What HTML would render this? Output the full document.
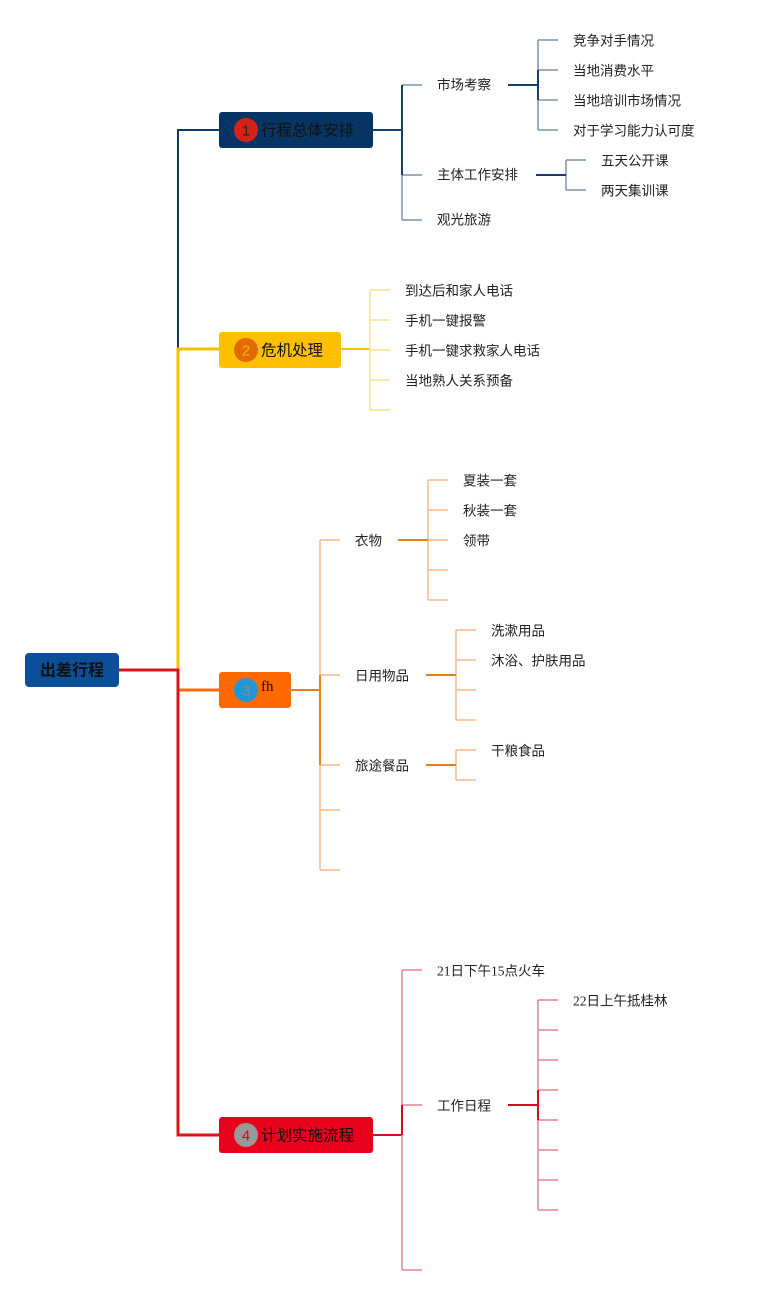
<!DOCTYPE html>
<html><head><meta charset="utf-8"><style>
html,body{margin:0;padding:0;background:#fff;}
svg{display:block;}
text{font-family:"Liberation Serif","Noto Sans CJK SC",sans-serif;font-size:13.5px;fill:#222;dominant-baseline:central;}
.b{font-size:15.5px;fill:#111;}
</style></head><body>
<svg width="759" height="1295" viewBox="0 0 759 1295" xmlns="http://www.w3.org/2000/svg">
<g fill="none" stroke-width="3">
 <path d="M178 349 V130 H219" stroke="#0d3a66" stroke-width="2"/>
 <path d="M178 690 V349 H219" stroke="#f5c000"/>
 <path d="M178 690 H219" stroke="#ff6a00"/>
 <path d="M118 670 H178 V1135 H219" stroke="#e0101a"/>
</g>
<rect x="25" y="653" width="94" height="34" rx="4" fill="#0b4f98"/>
<text x="72" y="671" text-anchor="middle" style="font-size:16px;font-weight:bold;fill:#111">出差行程</text>
<rect x="219" y="112" width="154" height="36" rx="3" fill="#063565"/>
<circle cx="246" cy="130" r="12" fill="#d6231a"/><text x="246" y="131" text-anchor="middle" style="font-family:'Liberation Sans',sans-serif;font-size:15px;fill:#222">1</text>
<text class="b" x="261" y="131">行程总体安排</text>
<g fill="none" stroke="#7b93ad" stroke-width="1.5">
 <path d="M402 85 V220 M402 85 H422 M402 175 H422 M402 220 H422"/>
 <path d="M538 40 V130 M538 40 H558 M538 70 H558 M538 100 H558 M538 130 H558"/>
 <path d="M566 160 V190 M566 160 H586 M566 190 H586"/>
</g>
<g fill="none" stroke="#143f6a" stroke-width="2">
 <path d="M372 130 H402 M402 85 V175"/>
 <path d="M508 85 H538 M538 70 V100"/>
 <path d="M536 175 H566"/>
</g>
<text x="437" y="85">市场考察</text><text x="437" y="175">主体工作安排</text><text x="437" y="220">观光旅游</text>
<text x="573" y="41">竞争对手情况</text><text x="573" y="71">当地消费水平</text><text x="573" y="101">当地培训市场情况</text><text x="573" y="131">对于学习能力认可度</text>
<text x="601" y="161">五天公开课</text><text x="601" y="191">两天集训课</text>
<rect x="219" y="332" width="122" height="36" rx="3" fill="#fcc000"/>
<circle cx="246" cy="350" r="12" fill="#e36a00"/><text x="246" y="351" text-anchor="middle" style="font-family:'Liberation Sans',sans-serif;font-size:15px;fill:#f5b000">2</text>
<text class="b" x="261" y="351">危机处理</text>
<path d="M340 349 H370" stroke="#f5c000" stroke-width="2"/>
<path d="M370 290 V410 M370 290 H390 M370 320 H390 M370 350 H390 M370 380 H390 M370 410 H390" stroke="#fce08a" stroke-width="1.5" fill="none"/>
<text x="405" y="291">到达后和家人电话</text><text x="405" y="321">手机一键报警</text><text x="405" y="351">手机一键求救家人电话</text><text x="405" y="381">当地熟人关系预备</text>
<rect x="219" y="672" width="72" height="36" rx="3" fill="#ff6a00"/>
<circle cx="246" cy="690" r="12" fill="#2196d6"/><text x="246" y="691" text-anchor="middle" style="font-family:'Liberation Sans',sans-serif;font-size:15px;fill:#888">3</text>
<text x="261" y="687" style="font-family:'Liberation Serif',serif;font-size:15px;fill:#111">fh</text>
<path d="M290 690 H320" stroke="#e8801a" stroke-width="2"/>
<g fill="none" stroke="#f5b98a" stroke-width="1.5">
 <path d="M320 540 V870 M320 540 H340 M320 675 H340 M320 765 H340 M320 810 H340 M320 870 H340"/>
 <path d="M428 480 V600 M428 480 H448 M428 510 H448 M428 540 H448 M428 570 H448 M428 600 H448"/>
 <path d="M456 630 V720 M456 630 H476 M456 660 H476 M456 690 H476 M456 720 H476"/>
 <path d="M456 750 V780 M456 750 H476 M456 780 H476"/>
</g>
<g stroke="#e8801a" stroke-width="2" fill="none"><path d="M320 675 V765"/><path d="M398 540 H428"/><path d="M426 675 H456"/><path d="M426 765 H456"/></g>
<text x="355" y="541">衣物</text><text x="355" y="676">日用物品</text><text x="355" y="766">旅途餐品</text>
<text x="463" y="481">夏装一套</text><text x="463" y="511">秋装一套</text><text x="463" y="541">领带</text>
<text x="491" y="631">洗漱用品</text><text x="491" y="661">沐浴、护肤用品</text><text x="491" y="751">干粮食品</text>
<rect x="219" y="1117" width="154" height="36" rx="3" fill="#e8001c"/>
<circle cx="246" cy="1135" r="12" fill="#999"/><text x="246" y="1136" text-anchor="middle" style="font-family:'Liberation Sans',sans-serif;font-size:15px;fill:#e8001c">4</text>
<text class="b" x="261" y="1136">计划实施流程</text>
<path d="M372 1135 H402" stroke="#d01020" stroke-width="2"/>
<g fill="none" stroke="#e88090" stroke-width="1.5">
 <path d="M402 970 V1270 M402 970 H422 M402 1105 H422 M402 1270 H422"/>
 <path d="M538 1000 V1210 M538 1000 H558 M538 1030 H558 M538 1060 H558 M538 1090 H558 M538 1120 H558 M538 1150 H558 M538 1180 H558 M538 1210 H558"/>
</g>
<g stroke="#d01020" stroke-width="2" fill="none"><path d="M402 1105 V1135"/><path d="M508 1105 H538 M538 1090 V1120"/></g>
<text x="437" y="971">21日下午15点火车</text><text x="437" y="1106">工作日程</text>
<text x="573" y="1001">22日上午抵桂林</text>
</svg>
</body></html>
